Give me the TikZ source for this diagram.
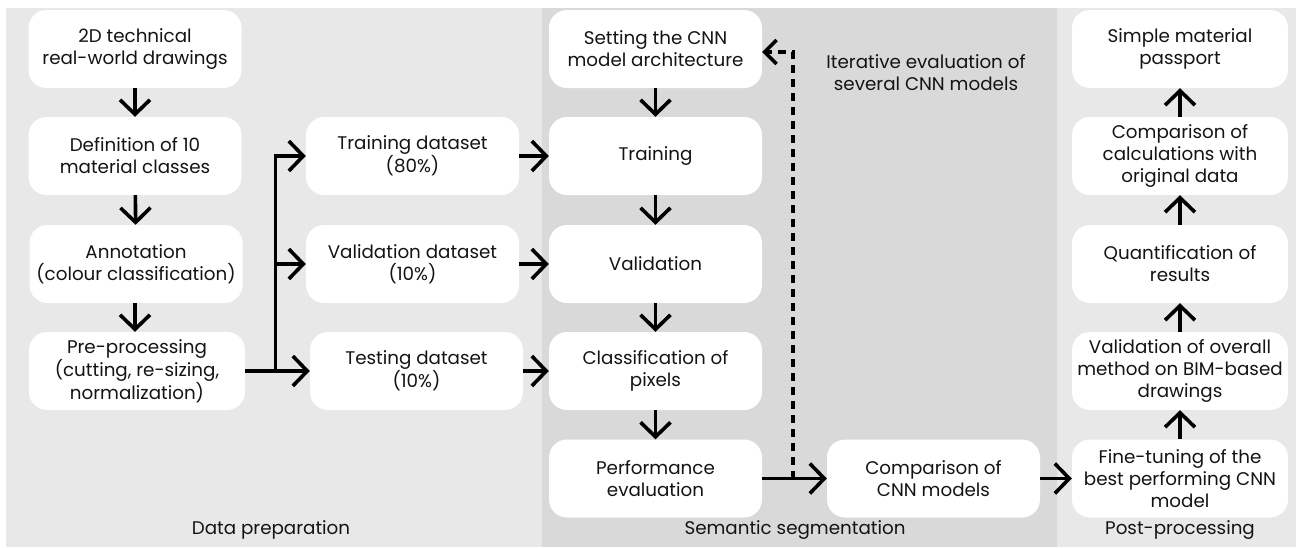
\documentclass[tikz,border=0pt]{standalone}
\usepackage{fontspec}
\setmainfont{Poppins}
\usetikzlibrary{arrows.meta}
\definecolor{panelA}{HTML}{E8E8E8}
\definecolor{panelB}{HTML}{D9D9D9}
\definecolor{txt}{HTML}{141414}
\tikzset{
  box/.style={fill=white, rounded corners=18pt, minimum width=213pt, minimum height=78pt,
    align=center, text=txt, inner sep=2pt, font=\fontsize{18.3}{22}\selectfont},
  lbl/.style={text=txt, align=center, font=\fontsize{18.3}{22}\selectfont},
  arr/.style={line width=3.6pt, -{Straight Barb[length=14.5pt,width=30pt]}},
  dasharr/.style={line width=3.4pt, dash pattern=on 8pt off 6pt, -{Straight Barb[length=12pt,width=24pt]}},
}
\begin{document}
\begin{tikzpicture}[x=1pt,y=-1pt]
\useasboundingbox (0,0) rectangle (1296,547);
\fill[white] (0,0) rectangle (1296,547);
\fill[panelA] (6,8) rectangle (542,547);
\fill[panelB] (542,8) rectangle (1057,547);
\fill[panelA] (1057,8) rectangle (1296,547);

% column 1
\node[box] (c1a) at (135,49) {2D technical\\real-world drawings};
\node[box] (c1b) at (135,156) {Definition of 10\\material classes};
\node[box] (c1c) at (136,264) {Annotation\\(colour classification)};
\node[box, minimum width=216pt] (pre) at (137,371) {Pre-processing\\(cutting, re-sizing,\\normalization)};

% column 2
\node[box] (train) at (412.5,156) {Training dataset\\(80\%)};
\node[box] (val) at (412.5,264) {Validation dataset\\(10\%)};
\node[box] (test) at (416.5,371) {Testing dataset\\(10\%)};

% column 3
\node[box] (set) at (655.5,49) {Setting the CNN\\model architecture};
\node[box] (tr) at (655.5,156) {Training};
\node[box] (va) at (655.5,264) {Validation};
\node[box] (cl) at (655.5,371) {Classification of\\pixels};
\node[box] (pe) at (655.5,478.5) {Performance\\evaluation};
\node[box] (cmp) at (933.5,478.5) {Comparison of\\CNN models};

% column 4
\node[box, minimum width=216pt] (smp) at (1180,49) {Simple material\\passport};
\node[box, minimum width=216pt] (cal) at (1180,156) {Comparison of\\calculations with\\original data};
\node[box, minimum width=216pt] (qua) at (1180,264) {Quantification of\\results};
\node[box, minimum width=216pt] (vob) at (1180,371) {Validation of overall\\method on BIM-based\\drawings};
\node[box, minimum width=216pt] (fin) at (1180,478.5) {Fine-tuning of the\\best performing CNN\\model};

% labels
\node[lbl] (l1) at (271,530) {Data preparation};
\node[lbl] (l2) at (795,530) {Semantic segmentation};
\node[lbl] (l3) at (1180,530) {Post-processing};
\node[lbl] (it) at (926,73) {Iterative evaluation of\\several CNN models};

% arrows column 1
\draw[arr] (c1a) -- (c1b);
\draw[arr] (c1b) -- (c1c);
\draw[arr] (c1c.south -| c1b.south) -- (pre.north -| c1b.south);

% split
\coordinate (sb) at (275.5,371);
\draw[arr] (pre.east) -- (test.west);
\draw[arr] (sb) |- (train.west);
\draw[arr] (sb |- val.west) -- (val.west);

% column 2 to 3
\draw[arr] (train.east) -- (tr.west);
\draw[arr] (val.east) -- (va.west);
\draw[arr] (test.east) -- (cl.west);

% column 3
\draw[arr] (set) -- (tr);
\draw[arr] (tr) -- (va);
\draw[arr] (va) -- (cl);
\draw[arr] (cl) -- (pe);
\draw[arr] (pe.east) -- (cmp.west);
\draw[arr] (cmp.east) -- (fin.west);

% dashed loop
\coordinate (dt) at (793,478.5);
\coordinate (dc) at (793,52);
\draw[dasharr] (dt) -- (dc) -- (dc -| set.east);

% column 4 upward
\draw[arr] (fin) -- (vob);
\draw[arr] (vob) -- (qua);
\draw[arr] (qua) -- (cal);
\draw[arr] (cal) -- (smp);
\end{tikzpicture}
\end{document}
